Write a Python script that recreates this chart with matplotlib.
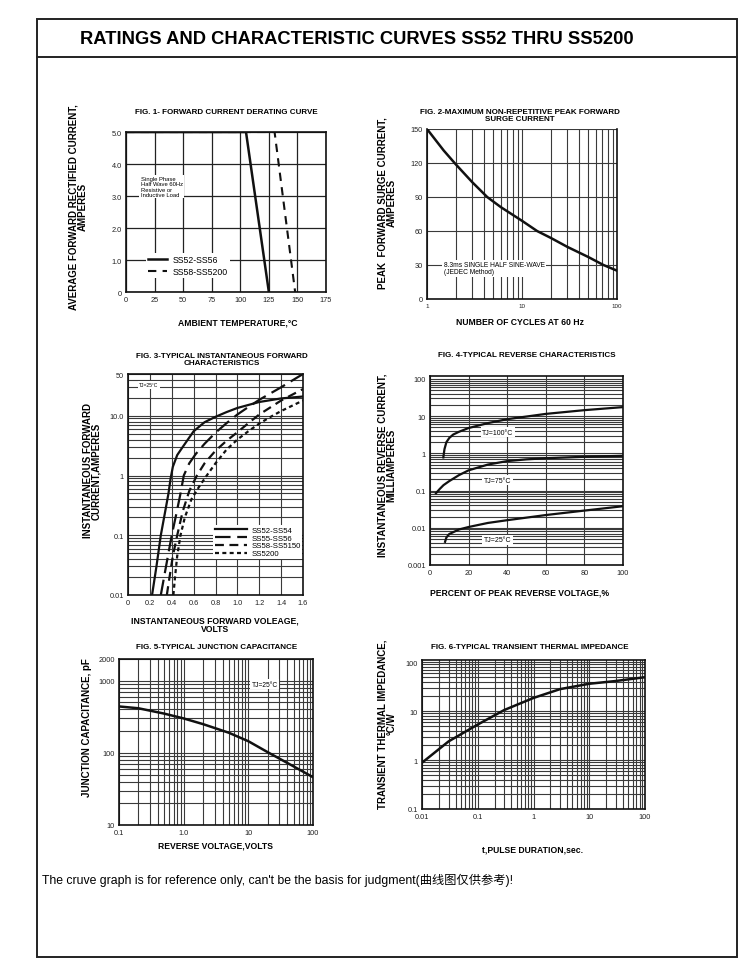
import numpy as np
import matplotlib
matplotlib.use("Agg")
import matplotlib.pyplot as plt
from matplotlib.patches import Rectangle
from matplotlib.lines import Line2D
from matplotlib.ticker import LogLocator, FixedLocator, NullFormatter

plt.rcParams['font.family'] = ['Liberation Sans', 'Noto Sans CJK SC']

# ---- data ----
# Fig.1 derating
temp_ss52 = [0, 105, 125]
amps_ss52 = [5.0, 5.0, 0]
temp_ss58 = [0, 130, 148]
amps_ss58 = [5.0, 5.0, 0]

# Fig.2 surge current
cycles = [1, 1.5, 2, 3, 4.3, 6, 10, 14.4, 20, 30, 50, 72, 100]
surge = [150, 131, 119, 103, 90, 81, 69, 60, 54, 46, 37, 30, 25]

# Fig.3 forward characteristics
vf_a = [0.22, 0.26, 0.30, 0.34, 0.37, 0.39, 0.41, 0.45, 0.5, 0.6, 0.7, 0.8, 0.9, 1.0, 1.2, 1.4, 1.6]
if_a = [0.01, 0.03, 0.1, 0.25, 0.5, 0.9, 1.4, 2.2, 3.0, 5.5, 7.8, 9.6, 11.5, 13.5, 17, 19.5, 21]
vf_b = [0.30, 0.33, 0.36, 0.40, 0.44, 0.48, 0.51, 0.56, 0.62, 0.7, 0.8, 0.9, 1.0, 1.1, 1.2, 1.4, 1.6]
if_b = [0.01, 0.02, 0.04, 0.1, 0.22, 0.5, 1.0, 1.6, 2.3, 3.4, 5.2, 7.5, 10.5, 14, 18.5, 30, 50]
vf_c = [0.355, 0.38, 0.41, 0.45, 0.5, 0.56, 0.63, 0.7, 0.8, 0.9, 1.0, 1.1, 1.2, 1.4, 1.6]
if_c = [0.01, 0.02, 0.045, 0.1, 0.25, 0.55, 1.0, 1.6, 2.6, 3.8, 5.3, 7.5, 10.5, 18, 28]
vf_d = [0.415, 0.43, 0.45, 0.48, 0.52, 0.58, 0.65, 0.72, 0.8, 0.9, 1.0, 1.1, 1.2, 1.3, 1.4, 1.6]
if_d = [0.01, 0.02, 0.045, 0.1, 0.2, 0.4, 0.65, 1.0, 1.6, 2.7, 4.0, 5.5, 7.4, 9.5, 12, 18]

# Fig.4 reverse characteristics
pct_100 = [6.9, 7.5, 8.5, 10, 12, 15, 20, 30, 40, 60, 80, 100]
ir_100 = [0.78, 1.3, 2.0, 2.6, 3.2, 3.8, 4.8, 6.5, 8.3, 11.5, 14.5, 17.5]
pct_75 = [3.1, 5, 7, 10, 15, 20, 30, 40, 50, 60, 80, 100]
ir_75 = [0.085, 0.11, 0.14, 0.18, 0.26, 0.35, 0.5, 0.62, 0.69, 0.74, 0.81, 0.86]
pct_25 = [7.8, 8.5, 10, 15, 20, 30, 40, 60, 80, 100]
ir_25 = [0.0042, 0.0055, 0.0068, 0.009, 0.0105, 0.0135, 0.016, 0.022, 0.029, 0.038]

# Fig.5 junction capacitance
vr = [0.1, 0.2, 0.5, 1, 2, 5, 10, 20, 50, 100]
cap = [440, 415, 350, 300, 250, 190, 145, 102, 65, 46]

# Fig.6 transient thermal impedance
pulse = [0.01, 0.03, 0.1, 0.3, 1, 3, 10, 30, 100]
zth = [0.88, 2.4, 5.3, 10.5, 18.5, 28, 36, 41, 49]

W, H = 746, 978
fig = plt.figure(figsize=(W / 100, H / 100), dpi=100)


def box(l, t, r, b):
    return [l / W, 1 - b / H, (r - l) / W, (b - t) / H]


def ftext(x, y, s, **kw):
    kw.setdefault('ha', 'center')
    kw.setdefault('va', 'center')
    fig.text(x / W, 1 - y / H, s, **kw)


def style(ax):
    for sp in ax.spines.values():
        sp.set_linewidth(1.2)
        sp.set_color('#111')
    ax.tick_params(which='both', length=0, labelsize=5.3, pad=3, colors='#222')
    ax.set_axisbelow(True)


GRID = dict(color='#3a3a3a', linewidth=0.8)
WHITE = dict(facecolor='white', edgecolor='none', pad=1.0)

# outer frame and header
fig.add_artist(Rectangle((37 / W, 1 - 958 / H), 700 / W, 938 / H, transform=fig.transFigure,
                         fill=False, edgecolor='#222', linewidth=1.4))
fig.add_artist(Line2D([37 / W, 737 / W], [1 - 58 / H, 1 - 58 / H], transform=fig.transFigure,
                      color='#222', linewidth=1.4))
ftext(80, 39, "RATINGS AND CHARACTERISTIC CURVES SS52 THRU SS5200", ha='left',
      fontsize=13.2, fontweight='bold')
ftext(42, 880, "The cruve graph is for reference only, can't be the basis for judgment(曲线图仅供参考)!",
      ha='left', fontsize=8.8)

# ---- Fig.1 ----
ax1 = fig.add_axes(box(126, 133, 326, 293))
style(ax1)
ax1.set_xlim(0, 175)
ax1.set_ylim(0, 5.0)
ax1.set_xticks(range(0, 176, 25))
ax1.set_yticks([0, 1, 2, 3, 4, 5])
ax1.set_yticklabels(["0", "1.0", "2.0", "3.0", "4.0", "5.0"])
ax1.grid(True, color='#222', linewidth=0.9)
l58, = ax1.plot(temp_ss58, amps_ss58, color='#111', linewidth=1.5, linestyle=(0, (4, 3)))
l52, = ax1.plot(temp_ss52, amps_ss52, color='#111', linewidth=1.8)
ax1.text(13, 3.3, "Single Phase\nHalf Wave 60Hz\nResistive or\nInductive Load", fontsize=4.2,
         va='center', ha='left', linespacing=1.05, bbox=WHITE)
ax1.legend([l52, l58], ["SS52-SS56", "SS58-SS5200"], loc='lower left', bbox_to_anchor=(0.08, 0.06),
           fontsize=6.3, frameon=True, framealpha=1, edgecolor='none', fancybox=False,
           handlelength=2.2, borderpad=0.2, labelspacing=0.4, handletextpad=0.6)
ftext(226, 112, "FIG. 1- FORWARD CURRENT DERATING CURVE", fontsize=5.8, fontweight='bold')
ftext(238, 323, "AMBIENT TEMPERATURE,°C", fontsize=6.2, fontweight='bold')
ftext(78, 207, "AVERAGE FORWARD RECTIFIED CURRENT,\nAMPERES", rotation=90, fontsize=7,
      fontweight='bold', linespacing=0.85)

# ---- Fig.2 ----
ax2 = fig.add_axes(box(427, 130, 617, 300))
style(ax2)
ax2.spines['top'].set_visible(False)
ax2.set_xscale('log')
ax2.set_xlim(1, 100)
ax2.set_ylim(0, 150)
ax2.set_yticks([0, 30, 60, 90, 120, 150])
ax2.xaxis.set_major_locator(FixedLocator([1, 10, 100]))
ax2.set_xticklabels(["1", "10", "100"])
ax2.xaxis.set_minor_locator(LogLocator(subs=np.arange(2, 10)))
ax2.xaxis.set_minor_formatter(NullFormatter())
ax2.tick_params(axis='x', labelsize=4.5)
ax2.grid(True, which='both', axis='x', **GRID)
ax2.grid(True, which='major', axis='y', **GRID)
ax2.plot(cycles, surge, color='#111', linewidth=1.8)
ax2.text(1.5, 27, "8.3ms SINGLE HALF SINE-WAVE\n(JEDEC Method)", fontsize=4.8, ha='left', va='center',
         linespacing=1.0, bbox=WHITE)
ftext(520, 116, "FIG. 2-MAXIMUM NON-REPETITIVE PEAK FORWARD\nSURGE CURRENT", fontsize=5.8,
      fontweight='bold', linespacing=0.95)
ftext(520, 323, "NUMBER OF CYCLES AT 60 Hz", fontsize=6.2, fontweight='bold')
ftext(387, 203, "PEAK  FORWARD SURGE CURRENT,\nAMPERES", rotation=90, fontsize=7,
      fontweight='bold', linespacing=0.85)

# ---- Fig.3 ----
ax3 = fig.add_axes(box(128, 375, 303, 596))
style(ax3)
ax3.set_yscale('log')
ax3.set_xlim(0, 1.6)
ax3.set_ylim(0.01, 50)
ax3.set_xticks(np.arange(0, 1.61, 0.2))
ax3.set_xticklabels(["0", "0.2", "0.4", "0.6", "0.8", "1.0", "1.2", "1.4", "1.6"])
ax3.yaxis.set_major_locator(FixedLocator([0.01, 0.1, 1, 10, 50]))
ax3.set_yticklabels(["0.01", "0.1", "1", "10.0", "50"])
ax3.yaxis.set_minor_locator(LogLocator(subs=np.arange(2, 10)))
ax3.yaxis.set_minor_formatter(NullFormatter())
ax3.grid(True, which='both', axis='y', **GRID)
ax3.grid(True, which='major', axis='x', **GRID)
ax3.plot(vf_a, if_a, color='#111', linewidth=1.6, label="SS52-SS54")
ax3.plot(vf_b, if_b, color='#111', linewidth=1.6, linestyle=(0, (7, 3)), label="SS55-SS56")
ax3.plot(vf_c, if_c, color='#111', linewidth=1.6, linestyle=(0, (4, 2.5)), label="SS58-SS5150")
ax3.plot(vf_d, if_d, color='#111', linewidth=1.6, linestyle=(0, (1.8, 1.5)), label="SS5200")
ax3.text(0.1, 33, "TJ=25°C", fontsize=3.6, ha='left', va='center', bbox=WHITE)
ax3.legend(loc='lower right', bbox_to_anchor=(1.0, 0.16), fontsize=5.6, frameon=True, framealpha=1,
           edgecolor='none', fancybox=False, handlelength=4.2, borderpad=0.2, labelspacing=0.05,
           handletextpad=0.5, borderaxespad=0.1)
ftext(222, 360, "FIG. 3-TYPICAL INSTANTANEOUS FORWARD\nCHARACTERISTICS", fontsize=5.8,
      fontweight='bold', linespacing=0.95)
ftext(215, 625, "INSTANTANEOUS FORWARD VOLEAGE,\nVOLTS", fontsize=6.2, fontweight='bold',
      linespacing=0.95)
ftext(92, 471, "INSTANTANEOUS FORWARD\nCURRENT,AMPERES", rotation=90, fontsize=7,
      fontweight='bold', linespacing=0.85)

# ---- Fig.4 ----
ax4 = fig.add_axes(box(430, 377, 623, 566))
style(ax4)
ax4.set_yscale('log')
ax4.set_xlim(0, 100)
ax4.set_ylim(0.001, 120)
ax4.set_xticks(range(0, 101, 20))
ax4.yaxis.set_major_locator(FixedLocator([0.001, 0.01, 0.1, 1, 10, 100]))
ax4.set_yticklabels(["0.001", "0.01", "0.1", "1", "10", "100"])
ax4.yaxis.set_minor_locator(LogLocator(subs=np.arange(2, 10)))
ax4.yaxis.set_minor_formatter(NullFormatter())
ax4.grid(True, which='both', axis='y', **GRID)
ax4.grid(True, which='major', axis='x', **GRID)
ax4.plot(pct_100, ir_100, color='#111', linewidth=1.6)
ax4.plot(pct_75, ir_75, color='#111', linewidth=1.6)
ax4.plot(pct_25, ir_25, color='#111', linewidth=1.6)
ax4.text(35, 3.7, "TJ=100°C", fontsize=5, ha='center', va='center', bbox=WHITE)
ax4.text(35, 0.19, "TJ=75°C", fontsize=5, ha='center', va='center', bbox=WHITE)
ax4.text(35, 0.0047, "TJ=25°C", fontsize=5, ha='center', va='center', bbox=WHITE)
ftext(527, 356, "FIG. 4-TYPICAL REVERSE CHARACTERISTICS", fontsize=5.8, fontweight='bold')
ftext(520, 593, "PERCENT OF PEAK REVERSE VOLTAGE,%", fontsize=6.2, fontweight='bold')
ftext(387, 465, "INSTANTANEOUS REVERSE CURRENT,\nMILLIAMPERES", rotation=90, fontsize=7,
      fontweight='bold', linespacing=0.85)

# ---- Fig.5 ----
ax5 = fig.add_axes(box(119, 660, 313, 826))
style(ax5)
ax5.set_xscale('log')
ax5.set_yscale('log')
ax5.set_xlim(0.1, 100)
ax5.set_ylim(10, 2000)
ax5.xaxis.set_major_locator(FixedLocator([0.1, 1, 10, 100]))
ax5.set_xticklabels(["0.1", "1.0", "10", "100"])
ax5.yaxis.set_major_locator(FixedLocator([10, 100, 1000, 2000]))
ax5.set_yticklabels(["10", "100", "1000", "2000"])
for a in (ax5.xaxis, ax5.yaxis):
    a.set_minor_locator(LogLocator(subs=np.arange(2, 10)))
    a.set_minor_formatter(NullFormatter())
ax5.grid(True, which='both', **GRID)
ax5.plot(vr, cap, color='#111', linewidth=1.8)
ax5.text(18, 900, "TJ=25°C", fontsize=4.8, ha='center', va='center', bbox=WHITE)
ftext(217, 648, "FIG. 5-TYPICAL JUNCTION CAPACITANCE", fontsize=5.8, fontweight='bold')
ftext(215, 846, "REVERSE VOLTAGE,VOLTS", fontsize=6.2, fontweight='bold')
ftext(87, 728, "JUNCTION CAPACITANCE, pF", rotation=90, fontsize=7, fontweight='bold')

# ---- Fig.6 ----
ax6 = fig.add_axes(box(422, 661, 645, 810))
style(ax6)
ax6.set_xscale('log')
ax6.set_yscale('log')
ax6.set_xlim(0.01, 100)
ax6.set_ylim(0.1, 110)
ax6.xaxis.set_major_locator(FixedLocator([0.01, 0.1, 1, 10, 100]))
ax6.set_xticklabels(["0.01", "0.1", "1", "10", "100"])
ax6.yaxis.set_major_locator(FixedLocator([0.1, 1, 10, 100]))
ax6.set_yticklabels(["0.1", "1", "10", "100"])
for a in (ax6.xaxis, ax6.yaxis):
    a.set_minor_locator(LogLocator(subs=np.arange(2, 10)))
    a.set_minor_formatter(NullFormatter())
ax6.grid(True, which='both', **GRID)
ax6.plot(pulse, zth, color='#111', linewidth=1.8)
ftext(530, 648, "FIG. 6-TYPICAL TRANSIENT THERMAL IMPEDANCE", fontsize=5.8, fontweight='bold')
ftext(533, 850, "t,PULSE DURATION,sec.", fontsize=6.2, fontweight='bold')
ftext(387, 724, "TRANSIENT THERMAL IMPEDANCE,\n°C/W", rotation=90, fontsize=7,
      fontweight='bold', linespacing=0.85)

fig.savefig("out.png", dpi=100)
